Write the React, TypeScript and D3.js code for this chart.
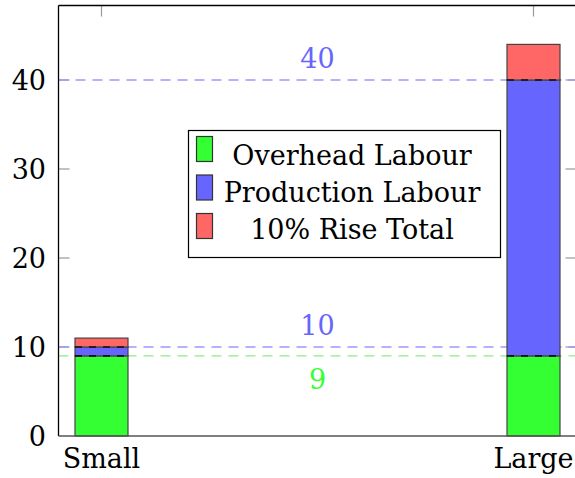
import React from "react";
import * as d3 from "d3";

const categories = ["Small", "Large"];
const overheadLabour = [9, 9];
const productionLabour = [1, 31];
const riseTotal = [1, 4];
const seriesNames = ["Overhead Labour", "Production Labour", "10% Rise Total"];
const seriesColors = ["#33ff33", "#6666ff", "#ff6666"];
const yTicks = [0, 10, 20, 30, 40];
const refValues = [40, 10, 9];
const refLabels = ["40", "10", "9"];

const W = 575;
const H = 478;
const left = 58.5;
const right = 576.5;
const top = 5.5;
const bottom = 436;
const FONT = "'DejaVu Serif', serif";

export default function App() {
  const y = d3.scaleLinear().domain([0, 48.37]).range([bottom, top]);
  const x = d3.scalePoint<string>().domain(categories).range([101.5, 533.5]);
  const barW = 53;
  const stack = d3.stack<any>().keys(["o", "p", "r"]);
  const rows = categories.map((c, i) => ({ c, o: overheadLabour[i], p: productionLabour[i], r: riseTotal[i] }));
  const stacked = stack(rows);

  const refColors = ["#6666ff", "#6666ff", "#33ff33"];
  const refStroke = ["#9999ff", "#9999ff", "#88ee88"];
  const labelDy = [-12, -12, 33];
  const legendX = 188.5;
  const legendY = 130.5;
  const legendW = 312;
  const legendH = 127;

  return (
    <svg width={W} height={H} style={{ position: "absolute", left: 0, top: 0 }} fontFamily={FONT}>
      <rect x={0} y={0} width={W} height={H} fill="white" />
      {/* ticks */}
      {yTicks.slice(1).map((t) => (
        <g key={"yt" + t}>
          <line x1={left} x2={left + 11} y1={y(t)} y2={y(t)} stroke="#999" strokeWidth={1.2} />
          <line x1={right} x2={right - 11} y1={y(t)} y2={y(t)} stroke="#999" strokeWidth={1.2} />
        </g>
      ))}
      {categories.map((c) => (
        <line key={"xt" + c} x1={x(c)} x2={x(c)} y1={top} y2={top + 11} stroke="#999" strokeWidth={1.2} />
      ))}
      {/* reference lines */}
      {refValues.map((v, i) => (
        <line key={"ref" + i} x1={left} x2={right} y1={y(v)} y2={y(v)} stroke={refStroke[i]} strokeWidth={1.3} strokeDasharray="10,7" />
      ))}
      {/* bars */}
      {stacked.map((layer, si) =>
        layer.map((d, ci) => (
          <rect
            key={"b" + si + "-" + ci}
            x={(x(categories[ci]) as number) - barW / 2}
            y={y(d[1])}
            width={barW}
            height={y(d[0]) - y(d[1])}
            fill={seriesColors[si]}
            stroke="#444"
            strokeWidth={1.2}
          />
        ))
      )}
      {stacked.slice(0, 2).map((layer, si) =>
        layer.map((d, ci) => (
          <line
            key={"bd" + si + "-" + ci}
            x1={(x(categories[ci]) as number) - barW / 2}
            x2={(x(categories[ci]) as number) + barW / 2}
            y1={y(d[1])}
            y2={y(d[1])}
            stroke="#111"
            strokeWidth={1.6}
            strokeDasharray="7,7"
          />
        ))
      )}
      {/* ref labels */}
      {refValues.map((v, i) => (
        <text key={"rl" + i} x={(left + right) / 2} y={y(v) + labelDy[i]} textAnchor="middle" fontSize={27} fill={refColors[i]}>
          {refLabels[i]}
        </text>
      ))}
      {/* axis box */}
      <line x1={left} x2={left} y1={top} y2={bottom} stroke="#000" strokeWidth={1.3} />
      <line x1={left} x2={right} y1={top} y2={top} stroke="#000" strokeWidth={1.3} />
      <line x1={right} x2={right} y1={top} y2={bottom} stroke="#000" strokeWidth={1.3} />
      <line x1={left} x2={right} y1={bottom} y2={bottom} stroke="#555" strokeWidth={1.5} />
      {/* y tick labels */}
      {yTicks.map((t) => (
        <text key={"yl" + t} x={46} y={y(t) + 10} textAnchor="end" fontSize={27} fill="#000">
          {t}
        </text>
      ))}
      {/* x tick labels */}
      {categories.map((c) => (
        <text key={"xl" + c} x={x(c)} y={468} textAnchor="middle" fontSize={27} fill="#000">
          {c}
        </text>
      ))}
      {/* legend */}
      <rect x={legendX} y={legendY} width={legendW} height={legendH} fill="white" stroke="#000" strokeWidth={1.2} />
      {seriesNames.map((n, i) => (
        <g key={"lg" + i}>
          <rect x={196.5} y={136.5 + i * 38.5} width={16} height={25} fill={seriesColors[i]} stroke="#333" strokeWidth={1.2} />
          <text x={352} y={165 + i * 37} textAnchor="middle" fontSize={27} fill="#000">
            {n}
          </text>
        </g>
      ))}
    </svg>
  );
}
